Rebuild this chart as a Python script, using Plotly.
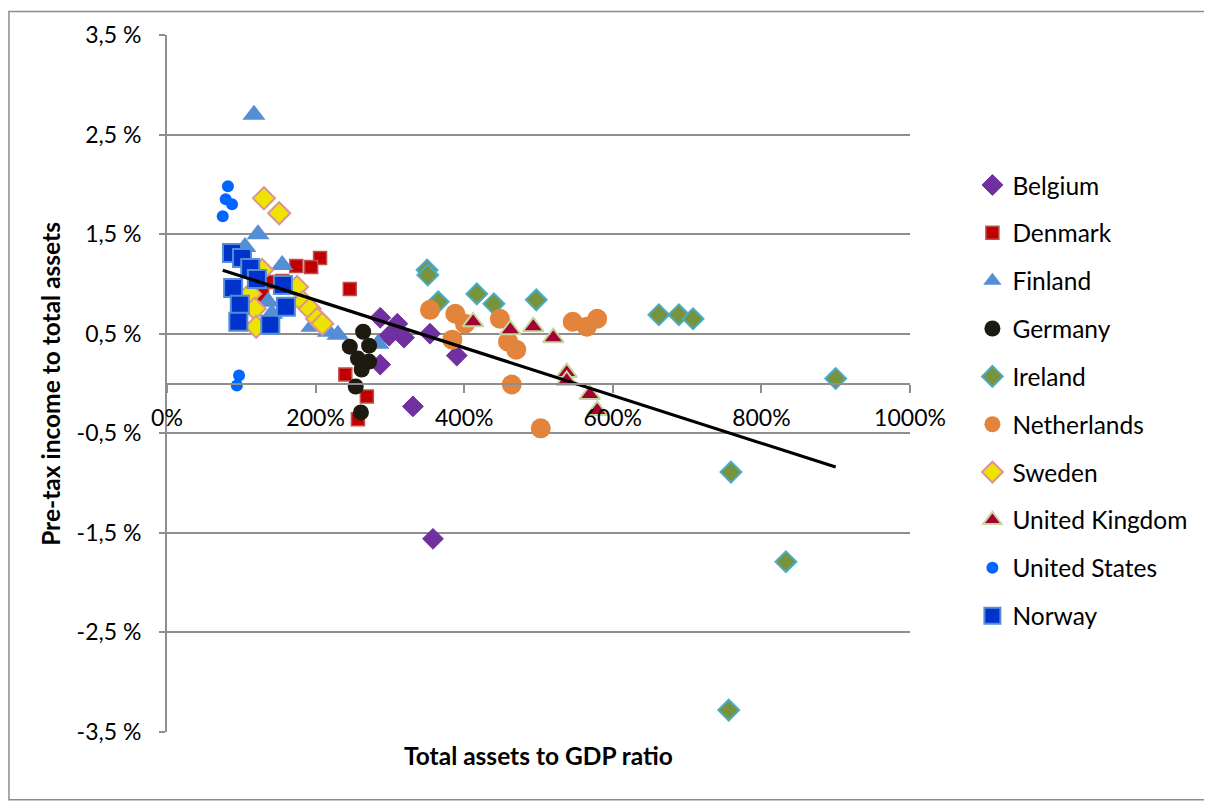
import plotly.graph_objects as go

# ---- data (x: total assets to GDP, %, y: pre-tax income to total assets, %) ----
belgium_x = [287, 310, 299, 319, 287, 354, 390, 331, 358]
belgium_y = [0.66, 0.60, 0.48, 0.46, 0.19, 0.50, 0.28, -0.23, -1.56]

denmark_x = [206, 194, 174, 139, 128, 246, 240, 269, 257, 155]
denmark_y = [1.26, 1.17, 1.18, 1.02, 0.89, 0.95, 0.09, -0.13, -0.36, 1.03]

finland_x = [117, 122.5, 105, 155, 136, 141, 195, 217, 230, 284]
finland_y = [2.70, 1.50, 1.37, 1.19, 0.82, 0.70, 0.57, 0.52, 0.49, 0.40]

germany_x = [264, 246, 272, 257, 272, 262, 254, 261]
germany_y = [0.52, 0.37, 0.38, 0.25, 0.22, 0.14, -0.03, -0.29]

ireland_x = [350, 351, 365, 417, 440, 497, 662, 689, 708, 900, 759, 833, 756]
ireland_y = [1.14, 1.09, 0.82, 0.90, 0.80, 0.84, 0.69, 0.69, 0.65, 0.05, -0.89, -1.79, -3.28]

netherlands_x = [354, 388, 401, 384, 448, 459, 470, 464, 546, 565, 579, 503]
netherlands_y = [0.74, 0.70, 0.60, 0.44, 0.65, 0.42, 0.34, -0.01, 0.62, 0.57, 0.65, -0.45]

sweden_x = [130.5, 151, 128, 112, 118, 120, 175, 183, 192, 202, 209]
sweden_y = [1.86, 1.71, 1.14, 0.90, 0.75, 0.57, 0.97, 0.82, 0.75, 0.65, 0.60]

uk_x = [412, 462, 493, 520, 538, 538, 569, 579]
uk_y = [0.62, 0.54, 0.57, 0.46, 0.11, 0.03, -0.11, -0.27]

us_x = [82, 79, 87.5, 75, 97, 94]
us_y = [1.98, 1.85, 1.80, 1.68, 0.08, -0.02]

norway_x = [87.5, 101, 112, 121, 89, 98, 96, 139, 156, 160]
norway_y = [1.31, 1.26, 1.16, 1.05, 0.96, 0.79, 0.62, 0.59, 0.99, 0.77]

# linear trend: y = slope * x + intercept
trend_slope = -0.002396
trend_intercept = 1.317

x_tick_vals = [0, 200, 400, 600, 800, 1000]
x_tick_text = ["0%", "200%", "400%", "600%", "800%", "1000%"]
y_tick_vals = [-3.5, -2.5, -1.5, -0.5, 0.5, 1.5, 2.5, 3.5]
y_tick_text = ["-3,5 %", "-2,5 %", "-1,5 %", "-0,5 %", "0,5 %", "1,5 %", "2,5 %", "3,5 %"]

series = [
    ("Belgium", belgium_x, belgium_y, dict(symbol="diamond", size=16, color="#7030A0",
                                           line=dict(color="#7030A0", width=1))),
    ("Denmark", denmark_x, denmark_y, dict(symbol="square", size=13, color="#C00000",
                                           line=dict(color="#C0504D", width=1.5))),
    ("Finland", finland_x, finland_y, dict(symbol="triangle-up", size=20, color="#558ED5",
                                           line=dict(color="#558ED5", width=0))),
    ("Germany", germany_x, germany_y, dict(symbol="circle", size=16, color="#1D1B10",
                                           line=dict(color="#1D1B10", width=0))),
    ("Ireland", ireland_x, ireland_y, dict(symbol="diamond", size=16, color="#77933C",
                                           line=dict(color="#4BACC6", width=2))),
    ("Netherlands", netherlands_x, netherlands_y, dict(symbol="circle", size=20, color="#E2843C",
                                                       line=dict(color="#E2843C", width=0))),
    ("Sweden", sweden_x, sweden_y, dict(symbol="diamond", size=17, color="#EEE400",
                                        line=dict(color="#D99694", width=2))),
    ("United Kingdom", uk_x, uk_y, dict(symbol="triangle-up", size=18, color="#A50034",
                                        line=dict(color="#C3D69B", width=2))),
    ("United States", us_x, us_y, dict(symbol="circle", size=12, color="#0066FF",
                                       line=dict(color="#0066FF", width=0))),
    ("Norway", norway_x, norway_y, dict(symbol="square", size=18, color="#0033CC",
                                        line=dict(color="#558ED5", width=2))),
]

fig = go.Figure()
for name, xs, ys, marker in series:
    fig.add_trace(go.Scatter(x=xs, y=ys, mode="markers", name=name, marker=marker,
                             legendgroup=name))

all_x = [v for _, xs, _, _ in series for v in xs]
tx = [min(all_x), max(all_x)]
ty = [trend_slope * v + trend_intercept for v in tx]
fig.add_trace(go.Scatter(x=tx, y=ty, mode="lines", line=dict(color="black", width=3.2),
                         showlegend=False, hoverinfo="skip"))

font_family = "Lato, 'Open Sans', sans-serif"
grid_color = "#8E8E8E"

fig.update_layout(
    width=1204, height=795, autosize=False,
    margin=dict(l=159, r=302, t=24, b=71),
    paper_bgcolor="white", plot_bgcolor="white",
    font=dict(family=font_family, size=23, color="black"),
    legend=dict(x=1.084, y=0.817, xanchor="left", yanchor="top",
                font=dict(size=24.5), traceorder="grouped", tracegroupgap=13,
                itemsizing="trace", itemwidth=30, bgcolor="rgba(0,0,0,0)"),
    xaxis=dict(range=[0, 1000], tickvals=x_tick_vals, ticktext=x_tick_text,
               showgrid=False, zeroline=False, showline=True, linecolor=grid_color,
               linewidth=2, ticks="outside", ticklen=8, tickwidth=2, tickcolor=grid_color,
               anchor="free", position=0.5, ticklabelstandoff=6,
               tickfont=dict(size=23)),
    yaxis=dict(range=[-3.5, 3.5], tickvals=y_tick_vals, ticktext=y_tick_text,
               showgrid=True, gridcolor=grid_color, gridwidth=2, zeroline=False,
               showline=True, linecolor=grid_color, linewidth=2,
               ticks="outside", ticklen=6, tickwidth=2, tickcolor=grid_color,
               ticklabelstandoff=13, tickfont=dict(size=23)),
    annotations=[
        dict(text="<b>Pre-tax income to total assets</b>", xref="paper", yref="paper",
             x=-0.157, y=0.5, xanchor="center", yanchor="middle", textangle=-90,
             showarrow=False, font=dict(size=24.5)),
        dict(text="<b>Total assets to GDP ratio</b>", xref="paper", yref="paper",
             x=0.5, y=-0.033, xanchor="center", yanchor="middle",
             showarrow=False, font=dict(size=24.5)),
    ],
    shapes=[
        dict(type="rect", xref="paper", yref="paper", x0=-0.2127, x1=1.4010,
             y0=-0.0971, y1=1.0336, line=dict(color="#8C8C8C", width=1.5),
             fillcolor="rgba(0,0,0,0)", layer="below"),
    ],
)

fig.write_html("out.html")
